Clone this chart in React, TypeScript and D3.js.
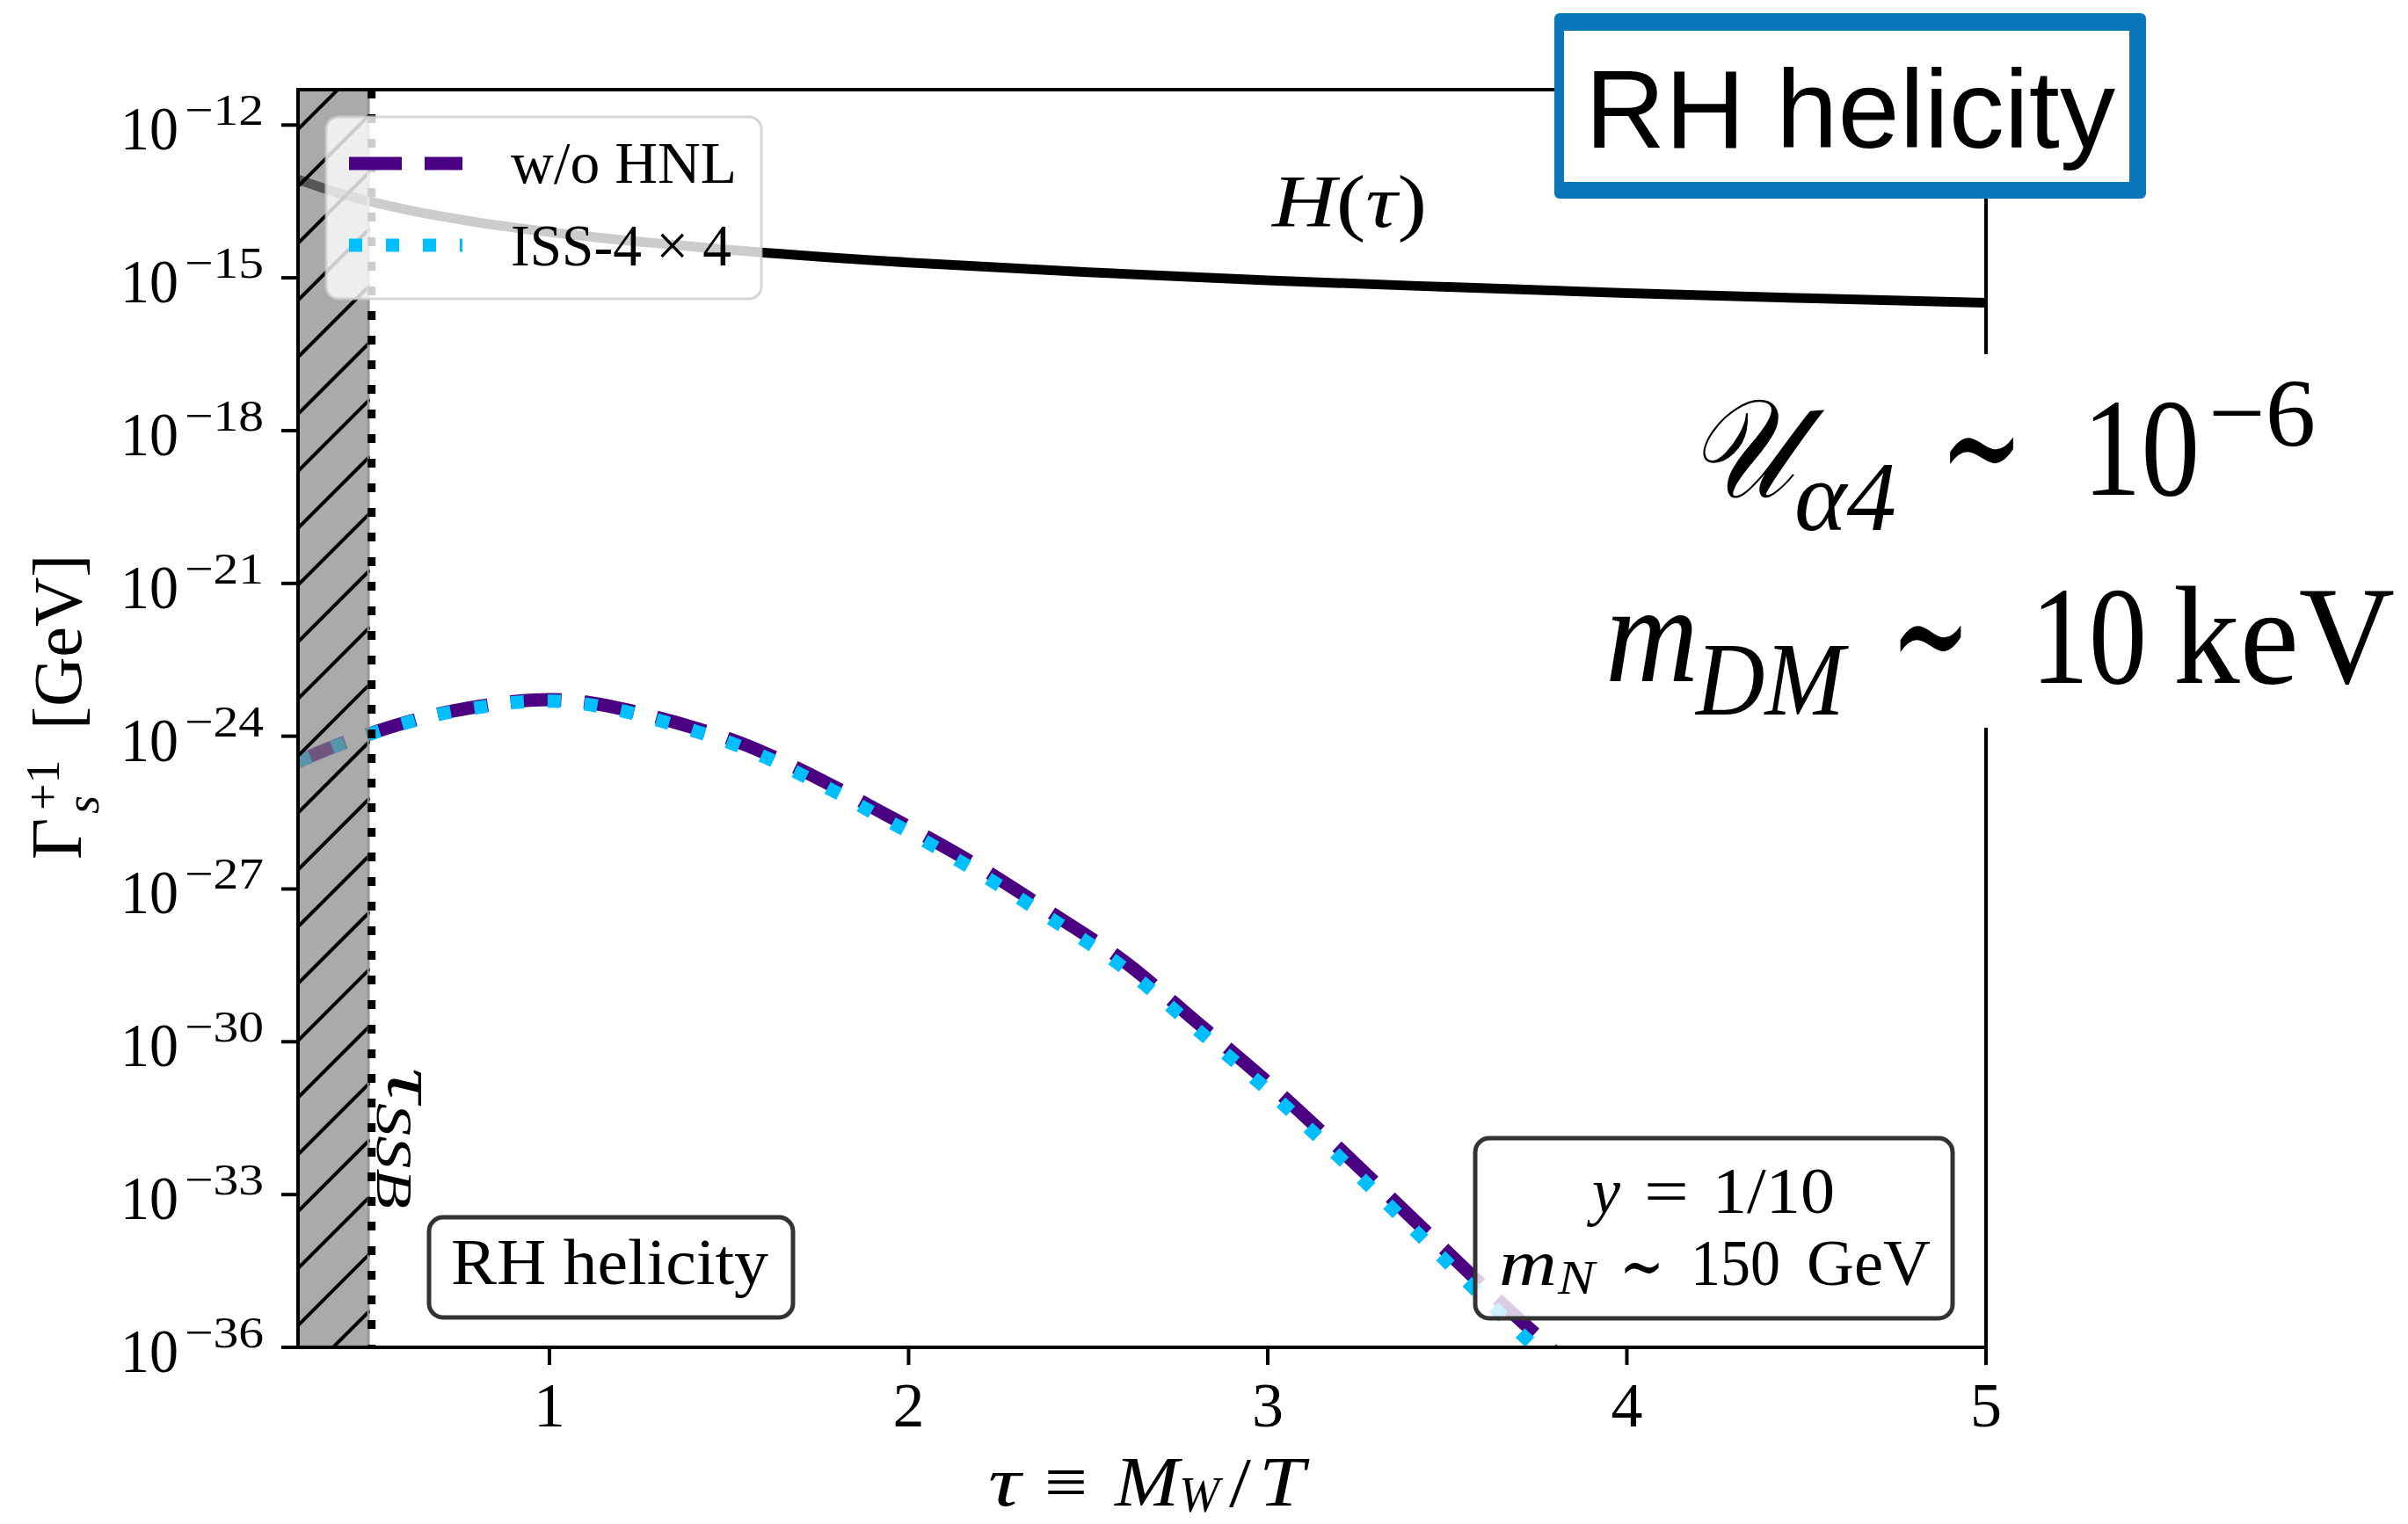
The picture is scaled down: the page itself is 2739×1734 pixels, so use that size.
import React from 'react';
import * as d3 from 'd3';

const WIDTH = 2739;
const HEIGHT = 1734;

// plot box (pixels)
const box = { left: 339, right: 2259, top: 102, bottom: 1533 };

// Hubble rate H(tau), log10 GeV
const tauHubble = [0.3, 0.4, 0.5, 0.6, 0.8, 1.0, 1.25, 1.5, 2.0, 2.5, 3.0, 3.5, 4.0, 4.5, 5.0];
const hubbleExp = [-13.07, -13.31, -13.5, -13.66, -13.91, -14.1, -14.29, -14.45, -14.7, -14.89, -15.05, -15.18, -15.3, -15.4, -15.49];

// production rate Gamma_s^{+1}, log10 GeV
const tauRate = [0.3, 0.4, 0.5, 0.6, 0.7, 0.8, 0.9, 1.0, 1.1, 1.2, 1.3, 1.4, 1.5, 1.6, 1.7, 1.8, 1.9, 2.0, 2.2, 2.4, 2.6, 2.8, 3.0, 3.2, 3.4, 3.6, 3.8, 3.9];
const noHnlExp = [-24.5, -24.2, -23.95, -23.73, -23.55, -23.42, -23.32, -23.28, -23.33, -23.46, -23.63, -23.83, -24.05, -24.33, -24.66, -25.02, -25.4, -25.78, -26.58, -27.48, -28.42, -29.6, -30.8, -32.1, -33.45, -34.8, -36.1, -36.8];
const iss44Exp = [-24.5, -24.21, -23.96, -23.74, -23.56, -23.44, -23.34, -23.31, -23.37, -23.5, -23.68, -23.89, -24.12, -24.41, -24.75, -25.11, -25.5, -25.88, -26.7, -27.6, -28.55, -29.74, -30.95, -32.27, -33.64, -35.02, -36.36, -37.0];

const xTicks = [1, 2, 3, 4, 5];
const yTickExps = [-12, -15, -18, -21, -24, -27, -30, -33, -36];
const tauMin = 0.3;
const tauMax = 5;
const tauSSB = 0.5;

const SERIF = "'Liberation Serif', 'DejaVu Serif', serif";
const SANS = "'Liberation Sans', Arial, sans-serif";
const PURPLE = '#4b0082';
const CYAN = '#00bfff';

function Txt(props: any) {
  const { x, y, size, len, italic, anchor, sy = 1, family = SERIF, fill = '#000', children } = props;
  return (
    <text
      transform={`translate(${x},${y}) scale(1,${sy})`}
      fontSize={size}
      fontFamily={family}
      fontStyle={italic ? 'italic' : 'normal'}
      textAnchor={anchor || 'start'}
      textLength={len}
      lengthAdjust={len ? 'spacingAndGlyphs' : undefined}
      fill={fill}
    >
      {children}
    </text>
  );
}

export default function App() {
  const x = d3.scaleLinear().domain([tauMin, tauMax]).range([box.left, box.right]);
  const y = d3.scaleLog().domain([1e-36, Math.pow(10, -11.305)]).range([box.bottom, box.top]);

  const line = d3
    .line<[number, number]>()
    .x(d => x(d[0]))
    .y(d => y(Math.pow(10, d[1])))
    .curve(d3.curveMonotoneX);

  const hubblePath = line(tauHubble.map((t, i) => [t, hubbleExp[i]]));
  const noHnlPath = line(tauRate.map((t, i) => [t, noHnlExp[i]]));
  const issPath = line(tauRate.map((t, i) => [t, iss44Exp[i]]));

  const xs = x(tauSSB);
  // hatch lines "/" across the shaded band
  const hatch = d3.range(-2, 24).map(k => 212 + k * 64.8);

  return (
    <svg width={WIDTH} height={HEIGHT} style={{ position: 'absolute', left: 0, top: 0, display: 'block' }}>
      <defs>
        <clipPath id="plotClip">
          <rect x={box.left} y={box.top} width={box.right - box.left} height={box.bottom - box.top} />
        </clipPath>
        <clipPath id="bandClip">
          <rect x={box.left} y={box.top} width={xs - box.left} height={box.bottom - box.top} />
        </clipPath>
      </defs>
      <rect width={WIDTH} height={HEIGHT} fill="#fff" />

      {/* curves */}
      <g clipPath="url(#plotClip)" fill="none">
        <path d={hubblePath || ''} stroke="#000" strokeWidth={11} />
        <path d={noHnlPath || ''} stroke={PURPLE} strokeWidth={15} strokeDasharray="58 26" />
        <path d={issPath || ''} stroke={CYAN} strokeWidth={15} strokeDasharray="15 27" />
      </g>

      {/* excluded band below tau_SSB */}
      <rect x={box.left} y={box.top} width={xs - box.left} height={box.bottom - box.top} fill="#808080" fillOpacity={0.67} />
      <g clipPath="url(#bandClip)">
        {hatch.map((y0, i) => (
          <line key={i} x1={box.left} y1={y0} x2={xs} y2={y0 - (xs - box.left)} stroke="#000" strokeWidth={4} />
        ))}
      </g>
      <line x1={xs - 2} x2={xs - 2} y1={box.top} y2={box.bottom} stroke="#999" strokeWidth={2} />
      <line x1={xs + 2} x2={xs + 2} y1={box.top} y2={box.bottom} stroke="#000" strokeWidth={9} strokeDasharray="10 18" />

      {/* spines and ticks */}
      <g stroke="#000" strokeWidth={4} fill="none">
        <rect x={box.left} y={box.top} width={box.right - box.left} height={box.bottom - box.top} />
        {xTicks.map(t => (
          <line key={t} x1={x(t)} x2={x(t)} y1={box.bottom} y2={box.bottom + 20} />
        ))}
        {yTickExps.map(e => (
          <line key={e} x1={box.left - 19} x2={box.left} y1={y(Math.pow(10, e))} y2={y(Math.pow(10, e))} />
        ))}
      </g>

      {/* tick labels */}
      {xTicks.map(t => (
        <Txt key={t} x={x(t)} y={1623} size={72} anchor="middle">{String(t)}</Txt>
      ))}
      {yTickExps.map(e => {
        const ty = y(Math.pow(10, e));
        return (
          <g key={e}>
            <Txt x={137} y={ty + 28} size={70} len={66}>10</Txt>
            <Txt x={210} y={ty} size={50} len={90}>{'\u2212' + String(-e)}</Txt>
          </g>
        );
      })}

      {/* axis labels */}
      <Txt x={1124} y={1713} size={80} italic len={37}>τ</Txt>
      <Txt x={1188} y={1713} size={80} len={49}>≡</Txt>
      <Txt x={1268} y={1713} size={80} italic len={73}>M</Txt>
      <Txt x={1341} y={1720} size={56} italic len={46}>W</Txt>
      <Txt x={1398} y={1714} size={80} len={25}>/</Txt>
      <Txt x={1432} y={1713} size={80} italic len={52}>T</Txt>

      <g transform="translate(92,978) rotate(-90)">
        <text x={0} y={0} fontSize={82} fontFamily={SERIF}>
          Γ
          <tspan x={56} y={-25} fontSize={54}>+1</tspan>
          <tspan x={52} y={20} fontSize={54} fontStyle="italic">s</tspan>
          <tspan x={148} y={0} fontSize={78}>[GeV]</tspan>
        </text>
      </g>

      {/* legend */}
      <rect x={371} y={133} width={495} height={207} rx={14} fill="#fff" fillOpacity={0.8} stroke="#cccccc" strokeOpacity={0.8} strokeWidth={3} />
      <line x1={397} x2={526} y1={186} y2={186} stroke={PURPLE} strokeWidth={15} strokeDasharray="60 26" />
      <line x1={397} x2={526} y1={279} y2={279} stroke={CYAN} strokeWidth={15} strokeDasharray="15 27" />
      <Txt x={581} y={208} size={68} len={257}>w/o HNL</Txt>
      <Txt x={581} y={302} size={68} len={251}>ISS-4 × 4</Txt>

      {/* annotations */}
      <text x={1447} y={258} fontSize={84} fontFamily={SERIF} textLength={176} lengthAdjust="spacingAndGlyphs">
        <tspan fontStyle="italic">H</tspan>(<tspan fontStyle="italic">τ</tspan>)
      </text>

      <g transform="translate(442,1215) rotate(90)">
        <Txt x={0} y={0} size={80} italic len={40}>τ</Txt>
        <Txt x={40} y={13} size={58} italic len={120}>SSB</Txt>
      </g>

      <rect x={488} y={1385} width={414} height={114} rx={16} fill="#fff" fillOpacity={0.8} stroke="#333" strokeWidth={5} />
      <Txt x={513} y={1461} size={75} len={361}>RH helicity</Txt>

      <rect x={1678} y={1295} width={543} height={205} rx={16} fill="#fff" fillOpacity={0.8} stroke="#333" strokeWidth={5} />
      <Txt x={1811} y={1380} size={75} italic len={32}>y</Txt>
      <Txt x={1870} y={1380} size={75} len={51}>=</Txt>
      <Txt x={1948} y={1380} size={75} len={139}>1/10</Txt>
      <Txt x={1705} y={1462} size={75} italic len={66}>m</Txt>
      <Txt x={1772} y={1472} size={54} italic len={42}>N</Txt>
      <Txt x={1842} y={1468} size={80} len={51}>∼</Txt>
      <Txt x={1923} y={1462} size={75} len={102}>150</Txt>
      <Txt x={2055} y={1462} size={75} len={141}>GeV</Txt>

      {/* pasted overlays on the right */}
      <rect x={1860} y={403} width={WIDTH - 1860} height={425} fill="#fff" />
      <Txt x={1919} y={565} size={133} sy={1.19} italic len={122}>𝒰</Txt>
      <Txt x={2041} y={603} size={95} sy={1.19} italic len={116}>α4</Txt>
      <Txt x={2206} y={572} size={180} sy={1.05} len={96}>∼</Txt>
      <Txt x={2369} y={563} size={133} sy={1.19} len={133}>10</Txt>
      <Txt x={2512} y={507} size={93} sy={1.19} len={122}>{'\u22126'}</Txt>

      <Txt x={1826} y={775} size={133} sy={1.19} italic len={106}>m</Txt>
      <Txt x={1929} y={813} size={100} sy={1.19} italic len={169}>DM</Txt>
      <Txt x={2150} y={786} size={180} sy={1.05} len={92}>∼</Txt>
      <Txt x={2310} y={777} size={133} sy={1.19} len={132}>10</Txt>
      <Txt x={2472} y={777} size={133} sy={1.19} len={252}>keV</Txt>

      <g>
        <rect x={1768} y={15} width={673} height={211} rx={6} fill="#0a77bb" />
        <rect x={1779} y={35} width={643} height={172} fill="#fff" />
        <Txt x={1803} y={168} size={127} family={SANS} len={603}>RH helicity</Txt>
      </g>
    </svg>
  );
}
